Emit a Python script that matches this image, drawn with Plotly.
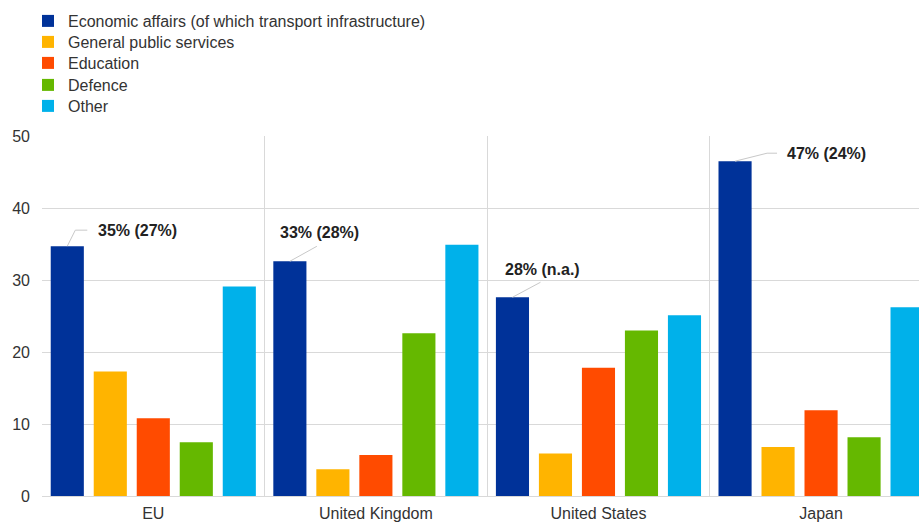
import plotly.graph_objects as go

regions = ["EU", "United Kingdom", "United States", "Japan"]
series_names = [
    "Economic affairs (of which transport infrastructure)",
    "General public services",
    "Education",
    "Defence",
    "Other",
]
economic = [34.7, 32.6, 27.6, 46.5]
general = [17.3, 3.7, 5.9, 6.8]
education = [10.8, 5.7, 17.8, 11.9]
defence = [7.45, 22.6, 23.0, 8.15]
other = [29.1, 34.9, 25.1, 26.2]
labels = ["35% (27%)", "33% (28%)", "28% (n.a.)", "47% (24%)"]
colors = ["#003299", "#FFB400", "#FF4B00", "#65B800", "#00B1EA"]

series = [economic, general, education, defence, other]
FONT = "Liberation Sans, Arial, sans-serif"
W, H = 919, 522
ML, MT, MB = 42, 136, 26
PW = W - ML

fig = go.Figure()
legend_ids = ["legend", "legend2", "legend3", "legend4", "legend5"]
for name, vals, col, lid in zip(series_names, series, colors, legend_ids):
    fig.add_trace(go.Bar(x=regions, y=vals, name=name, legend=lid,
                         marker=dict(color=col, line=dict(width=0))))

BARGAP = 0.034
slot = (1 - BARGAP) / len(series)
econ_offset = -2 * slot

# label placement (pixel offsets from the top of the economic-affairs bar)
label_xshift = [29, -12, -9, 50]
label_yshift = [16, 29, 28, 8]
leader_paths = [
    "M0,0 L8,16 L20,16",
    "M0,0 L27,15",
    "M0,0 L28,15",
    "M0,0 L32,8 L42,8",
]
for i, (lab, v) in enumerate(zip(labels, economic)):
    xc = i + econ_offset
    fig.add_annotation(
        x=xc, y=v, xref="x", yref="y", showarrow=False,
        text="<b>" + lab + "</b>", xanchor="left", yanchor="middle",
        xshift=label_xshift[i], yshift=label_yshift[i],
        font=dict(size=16, color="#222222", family=FONT),
    )
    fig.add_shape(
        type="path", path=leader_paths[i], xref="x", yref="y",
        xsizemode="pixel", ysizemode="pixel", xanchor=xc, yanchor=v,
        line=dict(color="#c8c8c8", width=1),
    )

# legend rows (one legend per series so the row spacing can follow the reference)
legend_rows_px = [21, 42, 63, 85, 106]
legend_layout = {}
for lid, ypx in zip(legend_ids, legend_rows_px):
    legend_layout[lid] = dict(
        x=-14 / PW, xref="paper", y=1 - ypx / H, yref="container",
        xanchor="left", yanchor="middle",
        font=dict(size=16, color="#333333", family=FONT),
        bgcolor="rgba(0,0,0,0)", borderwidth=0, itemclick=False,
    )

fig.update_layout(
    width=W, height=H,
    margin=dict(l=ML, r=0, t=MT, b=MB, autoexpand=False),
    paper_bgcolor="white", plot_bgcolor="white",
    barmode="group", bargap=BARGAP, bargroupgap=0.23,
    font=dict(family=FONT, size=16, color="#333333"),
    xaxis=dict(range=[-0.5, 3.44], tickson="boundaries", showgrid=True, gridcolor="#d9d9d9",
               gridwidth=1, ticks="", showline=False, ticklabelstandoff=6, tickangle=0,
               tickfont=dict(size=16, color="#333333")),
    yaxis=dict(range=[0, 50], dtick=10, showgrid=True, gridcolor="#d9d9d9", gridwidth=1,
               zeroline=True, zerolinecolor="#d9d9d9", zerolinewidth=1, ticks="",
               ticklabelstandoff=11, tickfont=dict(size=16, color="#333333")),
    showlegend=True,
    **legend_layout,
)

fig.write_html("out.html", config={"displayModeBar": False},
               post_script="document.body.style.margin='0';")
